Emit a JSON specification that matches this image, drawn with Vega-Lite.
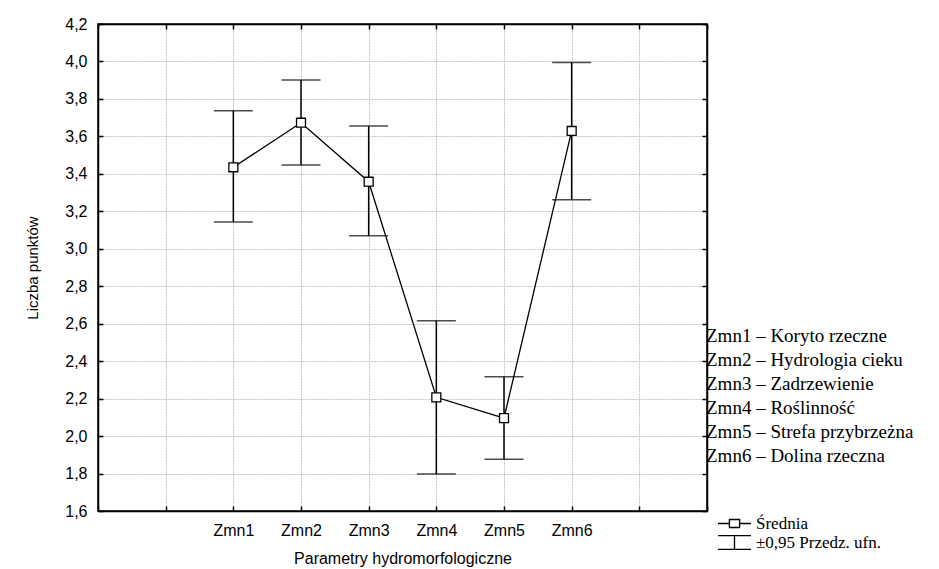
{
  "$schema": "https://vega.github.io/schema/vega-lite/v6.json",
  "width": 609,
  "height": 487,
  "autosize": {"type": "none"},
  "padding": {"left": 98, "top": 24, "right": 232, "bottom": 58},
  "background": "white",
  "config": {
    "view": {"stroke": "black", "strokeWidth": 1.5},
    "font": "Liberation Sans",
    "axis": {
      "domainColor": "black",
      "domainWidth": 1.5,
      "tickColor": "black",
      "tickWidth": 1.5,
      "tickSize": -5,
      "gridColor": "#c4c4c4",
      "gridDash": [2, 1],
      "gridWidth": 1,
      "labelColor": "black",
      "titleColor": "black",
      "labelFont": "Liberation Sans",
      "titleFont": "Liberation Sans",
      "titleFontWeight": "normal"
    }
  },
  "data": {
    "values": [
      {"zmienna": "Zmn1", "opis": "Zmn1 – Koryto rzeczne", "srednia": 3.435, "dolna": 3.143, "gorna": 3.737},
      {"zmienna": "Zmn2", "opis": "Zmn2 – Hydrologia cieku", "srednia": 3.673, "dolna": 3.447, "gorna": 3.901},
      {"zmienna": "Zmn3", "opis": "Zmn3 – Zadrzewienie", "srednia": 3.358, "dolna": 3.07, "gorna": 3.655},
      {"zmienna": "Zmn4", "opis": "Zmn4 – Roślinność", "srednia": 2.207, "dolna": 1.797, "gorna": 2.616},
      {"zmienna": "Zmn5", "opis": "Zmn5 – Strefa przybrzeżna", "srednia": 2.096, "dolna": 1.876, "gorna": 2.317},
      {"zmienna": "Zmn6", "opis": "Zmn6 – Dolina rzeczna", "srednia": 3.629, "dolna": 3.262, "gorna": 3.994}
    ]
  },
  "resolve": {"axis": {"x": "independent", "y": "independent"}},
  "layer": [
    {
      "mark": {"type": "rule", "strokeWidth": 1.5},
      "encoding": {
        "x": {
          "field": "zmienna", "type": "nominal",
          "scale": {"type": "point", "domain": ["_a", "_b", "Zmn1", "Zmn2", "Zmn3", "Zmn4", "Zmn5", "Zmn6", "_c", "_d"], "padding": 0},
          "axis": {
            "orient": "bottom",
            "title": "Parametry hydromorfologiczne",
            "titleFontSize": 16,
            "labelFontSize": 16,
            "labelAngle": 0,
            "labelPadding": 16,
            "titlePadding": 12,
            "grid": true,
            "labelExpr": "indexof(datum.value, '_') == 0 ? '' : datum.value"
          }
        },
        "y": {
          "field": "dolna", "type": "quantitative",
          "scale": {"domain": [1.6, 4.2], "nice": false, "zero": false},
          "axis": {
            "orient": "left",
            "title": "Liczba punktów",
            "titleFontSize": 15,
            "labelFontSize": 16,
            "labelPadding": 16,
            "titlePadding": 24,
            "grid": true,
            "values": [1.6, 1.8, 2.0, 2.2, 2.4, 2.6, 2.8, 3.0, 3.2, 3.4, 3.6, 3.8, 4.0, 4.2],
            "labelExpr": "replace(format(datum.value, '.1f'), '.', ',')"
          }
        },
        "y2": {"field": "gorna"},
        "color": {
          "datum": "±0,95 Przedz. ufn.",
          "type": "nominal",
          "scale": {"domain": ["Średnia", "±0,95 Przedz. ufn."], "range": ["black", "black"]},
          "legend": {
            "orient": "none",
            "legendX": 627,
            "legendY": 490,
            "title": null,
            "symbolSize": 289,
            "labelFont": "Liberation Serif",
            "labelFontSize": 17,
            "labelColor": "black",
            "labelOffset": 12,
            "labelLimit": 400,
            "rowPadding": 0,
            "encode": {
              "symbols": {
                "update": {
                  "shape": {"signal": "datum.value === 'Średnia' ? 'M-1.94,0H-0.6M0.6,0H1.94M-0.6,-0.47H0.6V0.47H-0.6Z' : 'M-1.94,-0.82H1.94M0,-0.82V0.82M-1.94,0.82H1.94'"},
                  "stroke": {"value": "black"},
                  "strokeWidth": {"value": 1.3},
                  "fill": {"value": "transparent"},
                  "opacity": {"value": 1}
                }
              }
            }
          }
        }
      }
    },
    {
      "mark": {"type": "tick", "color": "black", "thickness": 1.5, "size": 39},
      "encoding": {
        "x": {"field": "zmienna", "type": "nominal", "axis": null},
        "y": {"field": "dolna", "type": "quantitative", "axis": null}
      }
    },
    {
      "mark": {"type": "tick", "color": "black", "thickness": 1.5, "size": 39},
      "encoding": {
        "x": {"field": "zmienna", "type": "nominal", "axis": null},
        "y": {"field": "gorna", "type": "quantitative", "axis": null}
      }
    },
    {
      "mark": {"type": "line", "strokeWidth": 1.3},
      "encoding": {
        "x": {"field": "zmienna", "type": "nominal", "axis": null},
        "y": {"field": "srednia", "type": "quantitative", "axis": null},
        "color": {"datum": "Średnia", "type": "nominal"}
      }
    },
    {
      "mark": {"type": "point", "filled": true, "fill": "white", "stroke": "black", "strokeWidth": 1.3, "size": 80, "opacity": 1},
      "encoding": {
        "x": {
          "field": "zmienna", "type": "nominal",
          "axis": {"orient": "top", "labels": false, "title": null, "grid": false, "ticks": true, "domain": true}
        },
        "y": {
          "field": "srednia", "type": "quantitative",
          "axis": {"orient": "right", "labels": false, "title": null, "grid": false, "ticks": true, "domain": true,
                   "values": [1.6, 1.8, 2.0, 2.2, 2.4, 2.6, 2.8, 3.0, 3.2, 3.4, 3.6, 3.8, 4.0, 4.2]}
        },
        "shape": {
          "field": "opis", "type": "nominal",
          "scale": {"range": ["square", "square", "square", "square", "square", "square"]},
          "legend": {
            "orient": "none",
            "legendX": 589,
            "legendY": 302,
            "title": null,
            "symbolOpacity": 0,
            "symbolSize": 1,
            "labelOffset": 0,
            "labelFont": "Liberation Serif",
            "labelFontSize": 19,
            "labelColor": "black",
            "labelLimit": 400,
            "rowPadding": 4
          }
        }
      }
    }
  ]
}
